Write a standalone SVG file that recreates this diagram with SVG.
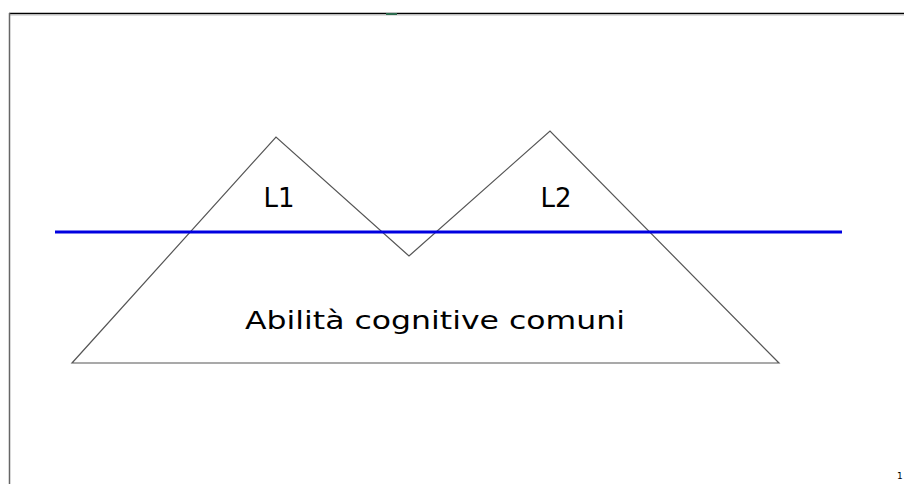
<svg xmlns="http://www.w3.org/2000/svg" width="904" height="484" viewBox="0 0 904 484">
<style>
.t{font-family:"DejaVu Sans",Verdana,sans-serif;fill:#000}
.shape{fill:none;stroke:#555;stroke-width:1.2}
</style>
<rect width="904" height="484" fill="#fff"/>
<g id="frame">
<line x1="9" y1="13.5" x2="904" y2="13.5" stroke="#000" stroke-width="1.5"/>
<line x1="10" y1="15" x2="904" y2="15" stroke="#bbb" stroke-width="1"/>
<line x1="9.5" y1="13" x2="9.5" y2="484" stroke="#666" stroke-width="1.5"/>
<rect x="386" y="13" width="11" height="2" fill="#2d6b4f"/>
</g>
<g id="mountains">
<polygon class="shape" points="72,363 276,137 409,256 550,131 779,363"/>
</g>
<g id="connectors">
<line x1="55" y1="232" x2="842" y2="232" stroke="#0000e0" stroke-width="3"/>
</g>
<g id="label-L1"><text class="t" x="279" y="207" font-size="26" text-anchor="middle">L1</text></g>
<g id="label-L2"><text class="t" x="556" y="207" font-size="26" text-anchor="middle">L2</text></g>
<g id="label-common"><text class="t" x="245" y="329" font-size="25.5" textLength="380" lengthAdjust="spacingAndGlyphs">Abilità cognitive comuni</text></g>
<g id="page"><text class="t" x="897" y="479" font-size="9">1</text></g>
</svg>
